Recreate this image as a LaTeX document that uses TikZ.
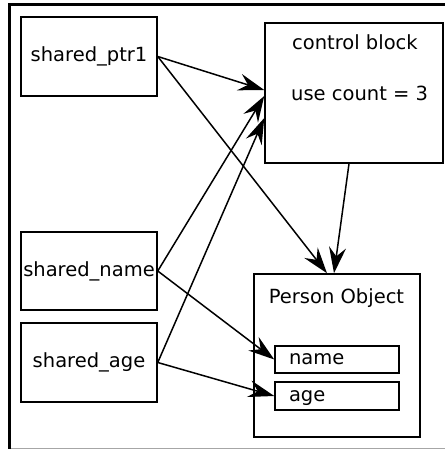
\documentclass[tikz,border=0pt]{standalone}
\usepackage{fontspec}
\setmainfont{DejaVu Sans}
\usetikzlibrary{arrows.meta}
\begin{document}
\begin{tikzpicture}[x=1pt,y=-1pt,
  box/.style={draw, line width=1.5pt, inner sep=0pt, font=\fontsize{19.5}{22}\selectfont},
  lbl/.style={inner sep=0pt, font=\fontsize{19.5}{22}\selectfont},
  field/.style={box, minimum width=124pt, text width=96pt, align=left, text depth=0pt},
  conn/.style={line width=1.5pt, -{Stealth[length=26pt, width=17pt, inset=9pt]}},
  frame/.style={line width=2.8pt}]
\useasboundingbox (0,0) rectangle (445,449);
% frame
\draw[frame] (9.5,449) -- (9.5,4.5) -- (445,4.5);
\draw[line width=1.2pt, gray!70] (11,448.3) -- (445,448.3);
% boxes
\node[box, minimum width=136pt, minimum height=79pt] (ptr1) at (89,56.5) {shared\_ptr1};
\node[box, minimum width=136pt, minimum height=78pt] (sname) at (89,271) {shared\_name};
\node[box, minimum width=136pt, minimum height=79pt] (sage) at (89,362.5) {shared\_age};
\node[box, minimum width=178pt, minimum height=140pt] (control) at (354,93) {};
\node[lbl, anchor=base west] (cbt1) at (292,50) {control block};
\node[lbl, anchor=base west] (cbt2) at (291,101) {use count = 3};
\node[box, minimum width=166pt, minimum height=163pt] (person) at (337,355.5) {};
\node[lbl] (pot) at (336.5,298) {Person Object};
\node[field, minimum height=27pt] (name) at (337,359.5) {name};
\node[field, minimum height=28pt] (age) at (337,396) {age};
% connectors
\draw[conn] (ptr1.east) -- ([yshift=3pt]control.west);
\draw[conn] (ptr1.east) -- ([xshift=-10pt]person.north);
\draw[conn] ([xshift=-5pt]control.south) -- ([xshift=-3pt]person.north);
\draw[conn] (sname.east) -- ([yshift=-3pt]control.west);
\draw[conn] (sname.east) -- (name.west);
\draw[conn] (sage.east) -- ([yshift=-25pt]control.west);
\draw[conn] (sage.east) -- (age.west);
\end{tikzpicture}
\end{document}
